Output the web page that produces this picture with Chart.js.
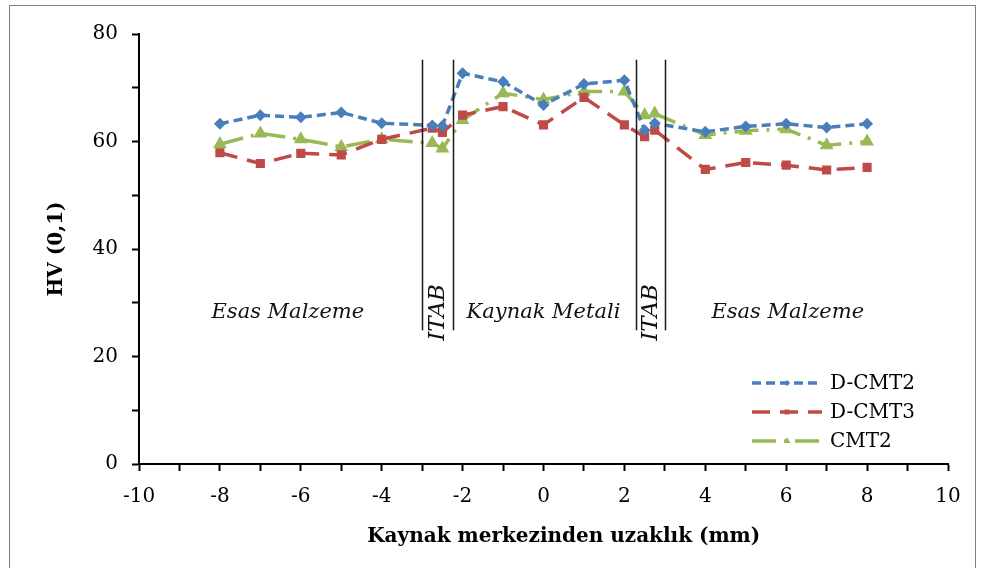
<!DOCTYPE html>
<html>
<head>
<meta charset="utf-8">
<script src="https://cdn.jsdelivr.net/npm/chart.js@4"></script>
<style>
  html, body { margin: 0; padding: 0; background: #fff; }
  #wrap { position: relative; width: 983px; height: 568px; overflow: hidden; }
  #frame { position: absolute; left: 9px; top: 5px; width: 965px; height: 620px; border: 1px solid #7f7f7f; }
  canvas { position: absolute; left: 0; top: 0; }
</style>
</head>
<body>
<div id="wrap">
  <div id="frame"></div>
  <canvas id="myChart" width="983" height="568"></canvas>
</div>
<script>
// distance from weld centre (mm)
var distances = [-8, -7, -6, -5, -4, -2.75, -2.5, -2, -1, 0, 1, 2, 2.5, 2.75, 4, 5, 6, 7, 8];
var dCmt2 = [63.3, 64.9, 64.5, 65.4, 63.4, 63.0, 62.9, 72.7, 71.1, 66.8, 70.7, 71.4, 62.1, 63.4, 61.8, 62.8, 63.3, 62.6, 63.3];
var dCmt3 = [57.9, 55.9, 57.8, 57.5, 60.4, 62.5, 61.7, 64.9, 66.5, 63.1, 68.2, 63.1, 60.9, 62.1, 54.8, 56.1, 55.6, 54.7, 55.2];
var cmt2  = [59.5, 61.5, 60.4, 59.0, 60.4, 59.7, 58.7, 64.0, 69.0, 67.8, 69.3, 69.3, 64.9, 65.2, 61.2, 62.0, 62.3, 59.3, 60.0];

// zone boundaries and zone labels
var zoneLines = [-3, -2.23, 2.28, 3];
var zoneLineTop = 75.2, zoneLineBottom = 24.9;
var zoneLabels = ['Esas Malzeme', 'ITAB', 'Kaynak Metali', 'ITAB', 'Esas Malzeme'];
var zoneLabelX = [-6.32, -2.63, 0, 2.63, 6.04];
var zoneLabelRotated = [false, true, false, true, false];
var zoneLabelY = 28.2;

var xTitle = 'Kaynak merkezinden uzaklık (mm)';
var serif = "'DejaVu Serif', 'Liberation Serif', serif";

function pts(ys) {
  return distances.map(function (x, i) { return { x: x, y: ys[i] }; });
}

var zonePlugin = {
  id: 'zones',
  afterDatasetsDraw: function (chart) {
    var c = chart.ctx, xs = chart.scales.x, ys = chart.scales.y;
    c.save();
    c.strokeStyle = '#1a1a1a';
    c.lineWidth = 1.5;
    zoneLines.forEach(function (v) {
      var px = Math.round(xs.getPixelForValue(v)) + 0.5;
      c.beginPath();
      c.moveTo(px, ys.getPixelForValue(zoneLineTop));
      c.lineTo(px, ys.getPixelForValue(zoneLineBottom));
      c.stroke();
    });
    c.fillStyle = '#111';
    c.textAlign = 'center';
    c.textBaseline = 'middle';
    zoneLabels.forEach(function (t, i) {
      var px = xs.getPixelForValue(zoneLabelX[i]);
      var py = ys.getPixelForValue(zoneLabelY);
      c.save();
      if (zoneLabelRotated[i]) {
        c.font = 'italic 23px ' + serif;
        c.translate(px + 1, py);
        c.rotate(-Math.PI / 2);
      } else {
        c.font = 'italic 21px ' + serif;
        c.translate(px, py);
      }
      c.fillText(t, 0, 0);
      c.restore();
    });
    // x axis title, sits a little right of the plot centre as in the source
    c.font = 'bold 20px ' + serif;
    c.fillStyle = '#000';
    c.fillText(xTitle, xs.getPixelForValue(0.5), 537);
    c.restore();
  }
};

// legend drawn inside the plot area, bottom right
var legendPlugin = {
  id: 'insideLegend',
  afterDraw: function (chart) {
    var c = chart.ctx;
    var x0 = 752, len = 70, y0 = 383, gap = 29;
    c.save();
    chart.data.datasets.forEach(function (ds, i) {
      var y = y0 + i * gap;
      c.strokeStyle = ds.borderColor;
      c.lineWidth = ds.borderWidth;
      c.setLineDash(ds.borderDash);
      c.beginPath();
      c.moveTo(x0, y);
      c.lineTo(x0 + len, y);
      c.stroke();
      c.setLineDash([]);
      c.fillStyle = ds.borderColor;
      Chart.helpers.drawPoint(c, {
        pointStyle: ds.pointStyle, radius: ds.pointRadius - 0.5, rotation: 0, borderWidth: 0
      }, x0 + len / 2, y);
      c.fillStyle = '#000';
      c.font = '20px ' + serif;
      c.textAlign = 'left';
      c.textBaseline = 'middle';
      c.fillText(ds.label, x0 + len + 8, y + 1);
    });
    c.restore();
  }
};

var ctx = document.getElementById('myChart').getContext('2d');
var chart = new Chart(ctx, {
  type: 'line',
  data: {
    datasets: [{
      label: 'D-CMT2',
      data: pts(dCmt2),
      borderColor: '#4a7ebb',
      backgroundColor: '#4a7ebb',
      borderWidth: 3.5,
      borderDash: [9, 5],
      pointStyle: 'rectRot',
      pointRadius: 3.5
    }, {
      label: 'D-CMT3',
      data: pts(dCmt3),
      borderColor: '#be4b48',
      backgroundColor: '#be4b48',
      borderWidth: 3.5,
      borderDash: [18, 10],
      pointStyle: 'rect',
      pointRadius: 4
    }, {
      label: 'CMT2',
      data: pts(cmt2),
      borderColor: '#98b954',
      backgroundColor: '#98b954',
      borderWidth: 3.5,
      borderDash: [24, 8, 3, 8],
      pointStyle: 'triangle',
      pointRadius: 4.5
    }]
  },
  plugins: [zonePlugin, legendPlugin],
  options: {
    responsive: false,
    animation: false,
    layout: {
      padding: { left: 0, right: 35, top: 34, bottom: 0 }
    },
    plugins: {
      legend: { display: false },
      tooltip: { enabled: false }
    },
    elements: {
      line: { tension: 0, borderCapStyle: 'butt' },
      point: { borderWidth: 0 }
    },
    scales: {
      x: {
        type: 'linear',
        min: -10,
        max: 10,
        afterFit: function (s) { s.height = 104; },
        ticks: {
          stepSize: 1,
          autoSkip: false,
          maxRotation: 0,
          padding: 14,
          color: '#000',
          font: { family: serif, size: 20 },
          callback: function (v) { return v % 2 === 0 ? String(v) : ''; }
        },
        grid: {
          drawOnChartArea: false,
          drawTicks: true,
          tickLength: 7,
          tickWidth: 2,
          tickColor: '#000'
        },
        border: { display: true, color: '#000', width: 2 }
      },
      y: {
        min: 0,
        max: 80,
        afterFit: function (s) { s.width = 139; },
        ticks: {
          stepSize: 10,
          padding: 14,
          color: '#000',
          font: { family: serif, size: 20 },
          callback: function (v) { return v % 20 === 0 ? String(v) : ''; }
        },
        grid: {
          drawOnChartArea: false,
          drawTicks: true,
          tickLength: 7,
          tickWidth: 2,
          tickColor: '#000'
        },
        border: { display: true, color: '#000', width: 2 },
        title: {
          display: true,
          text: 'HV (0,1)',
          color: '#000',
          font: { family: serif, size: 20, weight: 'bold' },
          padding: { top: 45, bottom: 0 }
        }
      }
    }
  }
});
</script>
</body>
</html>
